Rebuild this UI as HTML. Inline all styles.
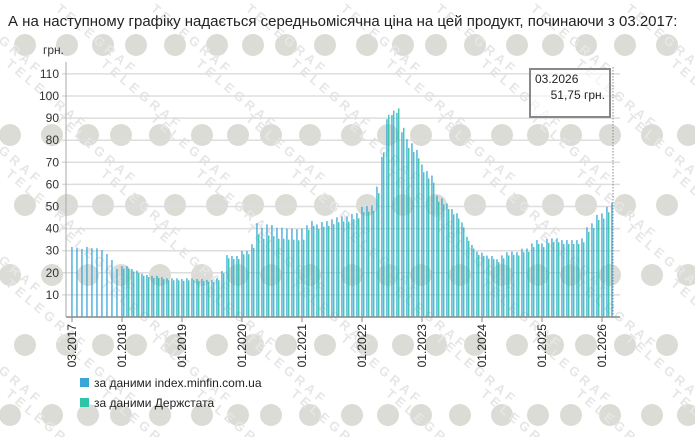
<!DOCTYPE html>
<html><head><meta charset="utf-8"><style>
html,body{margin:0;padding:0;background:#fff;width:695px;height:437px;overflow:hidden;font-family:"Liberation Sans",sans-serif}
svg{display:block}
</style></head><body>
<svg id="s" width="695" height="437" xmlns="http://www.w3.org/2000/svg" font-family="Liberation Sans, sans-serif">
<g id="wm"></g>
<text x="8" y="26" font-size="15" fill="#222">А на наступному графіку надається середньомісячна ціна на цей продукт, починаючи з 03.2017:</text>
<text x="43" y="54" font-size="12" fill="#333">грн.</text>
<g id="grid"></g>
<g id="bars"></g>
<line x1="66" y1="317" x2="620" y2="317" stroke="#888" stroke-width="1.5"/>
<line x1="66" y1="62" x2="66" y2="317" stroke="#aaa" stroke-width="1"/>
<line x1="613" y1="67" x2="613" y2="317" stroke="#888" stroke-width="1" stroke-dasharray="1.5,1.5"/>
<rect x="530" y="69" width="80" height="48" fill="#fff" fill-opacity="0.6" stroke="#888" stroke-width="2"/>
<text x="535" y="83" font-size="12" fill="#222">03.2026</text>
<text x="605" y="99" font-size="12" fill="#222" text-anchor="end">51,75 грн.</text>
<g id="xl"></g>
<rect x="80" y="378" width="9" height="9" fill="#3aa6d8"/>
<text x="94" y="387" font-size="12" fill="#222">за даними index.minfin.com.ua</text>
<rect x="80" y="398" width="9" height="9" fill="#2ec4a6"/>
<text x="94" y="407" font-size="12" fill="#222">за даними Держстата</text>
</svg>
<script>
var NS="http://www.w3.org/2000/svg";
function el(p,t,a,txt){var e=document.createElementNS(NS,t);for(var k in a)e.setAttribute(k,a[k]);if(txt)e.textContent=txt;p.appendChild(e);return e;}
var wm=document.getElementById('wm');
var rows=[45,135,205,275,345,415];
rows.forEach(function(y,i){for(var x=(i%2?10:25);x<700;x+=32+((x*7)%15)){el(wm,'circle',{cx:x,cy:y,r:11,fill:'#dcdcd6'});}});
for(var r=0;r<9;r++){for(var c=0;c<9;c++){var x=c*95-40+(r%2)*45,y=r*55+10;el(wm,'text',{x:x,y:y,'font-size':13,'font-weight':'bold',fill:'#e6e6e6',transform:'rotate(40 '+x+' '+y+')','letter-spacing':'4'},'TELEGRAF');}}
var g=document.getElementById('grid');
for(var v=10;v<=110;v+=10){var y=317-v*2.21;el(g,'line',{x1:62,y1:y,x2:620,y2:y,stroke:'#ddd','stroke-width':1.5});el(g,'text',{x:59,y:y+4,'font-size':12,fill:'#333','text-anchor':'end'},String(v));}
var b=[31.7,31.1,30.8,31.7,31.1,31.1,30.3,28.5,25.8,21.7,
23,23,21.7,21,19.6,19,18.6,18.6,18,17.5,17.5,17.5,17.2,17.5,
17.5,17.2,17.2,16.8,16.8,17.5,20.8,28,27.6,27.6,29.9,29.9,
32.9,42.4,40.4,41.9,41.6,40.4,40.4,40,40,39.7,40,41.5,43.4,41.9,43,43.4,44.2,45.1,45.5,
45.4,46.6,47,49.9,50.2,50.5,59,72.5,89.5,91.4,92.4,83.6,80.5,78.6,75.6,69,66,64,54.9,53.7,51.4,48.9,46.9,42.8,36.3,32.6,29.6,
29.1,27.8,27.6,26.1,27.9,29.3,29.6,29.3,30.9,31,33.3,34.8,33.3,35.3,35.6,35.6,34.8,34.8,34.8,34.8,35.6,40.6,42.4,46.2,46.9,49.9,51.75];
var bg=document.getElementById('bars');
for(var i=0;i<b.length;i++){var x=72+i*5;
el(bg,'rect',{x:x-0.7,y:317-b[i]*2.21,width:1.3,height:b[i]*2.21,fill:'#3aa6d8'});
if(i>=10&&i<108){var t=b[i]*0.95;if(i>=37&&i<=46)t=b[i]-5;if(i>=62&&i<=66)t=b[i]+2;
el(bg,'rect',{x:x+1.1,y:317-t*2.21,width:1.3,height:t*2.21,fill:'#2ec4a6'});}}
var xl=document.getElementById('xl');
var labs=[[0,'03.2017']];for(var yy=2018;yy<=2026;yy++)labs.push([(yy-2017)*12-2,'01.'+yy]);
labs.forEach(function(l){var x=72+l[0]*5;el(xl,'line',{x1:x,y1:317,x2:x,y2:322,stroke:'#888'});
el(xl,'text',{x:0,y:0,'font-size':12,fill:'#222','text-anchor':'end',transform:'translate('+(x+4)+',324) rotate(-90)'},l[1]);});
</script>
</body></html>
